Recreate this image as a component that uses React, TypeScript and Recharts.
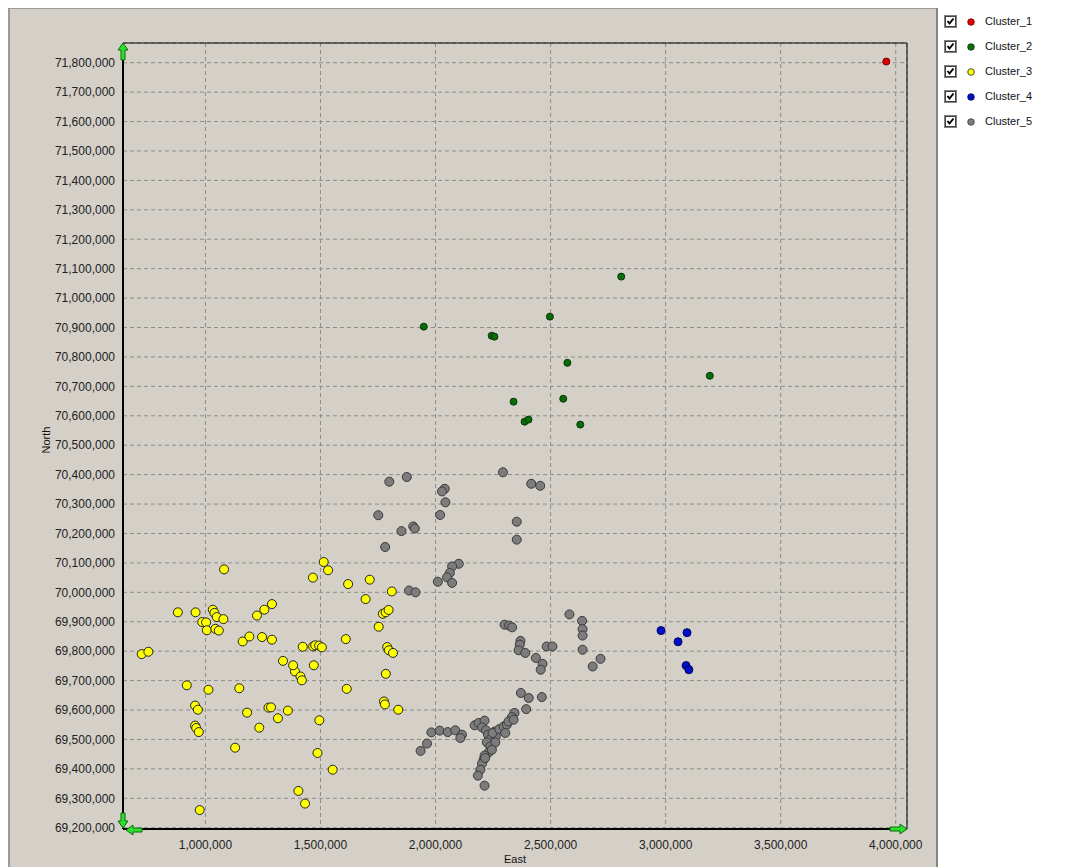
import React from 'react';
import {
  ScatterChart,
  Scatter,
  XAxis,
  YAxis,
  CartesianGrid,
  Legend,
  Label,
  ReferenceLine,
  ReferenceDot,
} from 'recharts';

// axis extents and tick values (East / North, metres)
const X_MIN = 641700;
const X_MAX = 4049000;
const Y_MIN = 69195600;
const Y_MAX = 71867000;
const eastTicks = [1000000, 1500000, 2000000, 2500000, 3000000, 3500000, 4000000];
const northTicks = [
  69200000, 69300000, 69400000, 69500000, 69600000, 69700000, 69800000, 69900000,
  70000000, 70100000, 70200000, 70300000, 70400000, 70500000, 70600000, 70700000,
  70800000, 70900000, 71000000, 71100000, 71200000, 71300000, 71400000, 71500000,
  71600000, 71700000, 71800000,
];

const clusterNames = ['Cluster_1', 'Cluster_2', 'Cluster_3', 'Cluster_4', 'Cluster_5'];

// [east, north]
const cluster1: [number, number][] = [[3959000, 71804000]];

const cluster2: [number, number][] = [
  [1949000, 70903000], [2497000, 70937000], [2244000, 70872000], [2256000, 70869000],
  [2807000, 71073000], [3192000, 70736000], [2573000, 70780000], [2339000, 70648000],
  [2555000, 70658000], [2387000, 70580000], [2404000, 70587000], [2629000, 70570000],
];

const cluster3: [number, number][] = [
  [1081000, 70078000], [880000, 69932000], [957000, 69932000], [1032000, 69941000],
  [1039000, 69930000], [1049000, 69916000], [1078000, 69909000], [986000, 69899000],
  [1003000, 69898000], [1006000, 69871000], [1043000, 69876000], [1058000, 69870000],
  [1224000, 69921000], [1256000, 69941000], [1289000, 69960000], [1162000, 69833000],
  [1191000, 69850000], [1246000, 69848000], [1289000, 69839000], [723000, 69790000],
  [752000, 69798000], [919000, 69684000], [1013000, 69669000], [1147000, 69674000],
  [1389000, 69731000], [1413000, 69714000], [1419000, 69701000], [1614000, 69672000],
  [1784000, 69723000], [955000, 69615000], [967000, 69601000], [955000, 69547000],
  [960000, 69539000], [971000, 69525000], [1181000, 69591000], [1274000, 69608000],
  [1285000, 69609000], [1315000, 69572000], [1358000, 69598000], [1234000, 69540000],
  [1495000, 69565000], [1776000, 69629000], [1780000, 69619000], [1838000, 69601000],
  [1129000, 69472000], [1487000, 69454000], [1553000, 69397000], [1404000, 69325000],
  [1433000, 69282000], [975000, 69260000], [1514000, 70103000], [1533000, 70075000],
  [1467000, 70050000], [1620000, 70028000], [1714000, 70043000], [1810000, 70003000],
  [1696000, 69977000], [1771000, 69927000], [1783000, 69932000], [1796000, 69940000],
  [1753000, 69883000], [1423000, 69815000], [1468000, 69816000], [1477000, 69820000],
  [1494000, 69819000], [1506000, 69813000], [1610000, 69841000], [1790000, 69814000],
  [1797000, 69803000], [1815000, 69794000], [1337000, 69767000], [1381000, 69752000],
  [1471000, 69752000],
];

const cluster4: [number, number][] = [
  [2980000, 69870000], [3054000, 69832000], [3093000, 69863000], [3089000, 69751000],
  [3101000, 69737000],
];

const cluster5: [number, number][] = [
  [1875000, 70392000], [1799000, 70376000], [2040000, 70352000], [2028000, 70343000],
  [2043000, 70306000], [1751000, 70262000], [2020000, 70263000], [1852000, 70208000],
  [1903000, 70224000], [1910000, 70217000], [1781000, 70154000], [2101000, 70097000],
  [2072000, 70088000], [2062000, 70066000], [2050000, 70051000], [2010000, 70036000],
  [2072000, 70032000], [1885000, 70006000], [1913000, 70000000], [2293000, 70408000],
  [2416000, 70369000], [2455000, 70362000], [2353000, 70240000], [2353000, 70179000],
  [2582000, 69925000], [2637000, 69903000], [2639000, 69875000], [2639000, 69853000],
  [2639000, 69805000], [2300000, 69890000], [2320000, 69887000], [2333000, 69881000],
  [2369000, 69835000], [2366000, 69822000], [2361000, 69803000], [2390000, 69794000],
  [2436000, 69777000], [2465000, 69757000], [2457000, 69737000], [2483000, 69816000],
  [2508000, 69816000], [2717000, 69774000], [2683000, 69748000], [2371000, 69658000],
  [2405000, 69641000], [2462000, 69644000], [2394000, 69603000], [2343000, 69590000],
  [2332000, 69576000], [1935000, 69461000], [1963000, 69486000], [1982000, 69524000],
  [2018000, 69530000], [2053000, 69525000], [2086000, 69531000], [2115000, 69516000],
  [2108000, 69505000], [2213000, 69343000], [2170000, 69548000], [2187000, 69556000],
  [2213000, 69564000], [2202000, 69541000], [2219000, 69531000], [2228000, 69516000],
  [2238000, 69501000], [2223000, 69490000], [2238000, 69476000], [2231000, 69456000],
  [2213000, 69445000], [2209000, 69431000], [2202000, 69418000], [2195000, 69397000],
  [2216000, 69437000], [2184000, 69377000], [2257000, 69527000], [2262000, 69510000],
  [2248000, 69522000], [2277000, 69535000], [2296000, 69544000], [2310000, 69550000],
  [2317000, 69561000], [2339000, 69567000], [2303000, 69522000], [2260000, 69490000],
  [2245000, 69465000],
];

const clusterData = [cluster1, cluster2, cluster3, cluster4, cluster5];
const clusterFill = ['#e00000', '#0b6b0b', '#ffff00', '#0010c8', '#7c7c7c'];
const clusterStroke = ['#700000', '#063806', '#222222', '#000060', '#3a3a3a'];
const clusterRadius = [3.5, 3.5, 4.5, 4, 4.5];

const FONT = '"Liberation Sans", Arial, sans-serif';
const ARROW_FILL = '#2ee02e';
const ARROW_STROKE = '#0a6a0a';

const toPoints = (pairs: [number, number][]) => pairs.map(([east, north]) => ({ east, north }));
const fmt = (v: number) => v.toLocaleString('en-US');

const dotShape = (i: number) => (props: any) => (
  <circle
    cx={props.cx}
    cy={props.cy}
    r={clusterRadius[i]}
    fill={clusterFill[i]}
    stroke={clusterStroke[i]}
    strokeWidth={1}
  />
);

const pts = (list: number[][]) => list.map((p) => p.join(',')).join(' ');

const UpArrow = ({ cx, cy }: any) => (
  <polygon
    points={pts([
      [cx, cy], [cx + 5, cy + 7], [cx + 2, cy + 7], [cx + 2, cy + 17],
      [cx - 2, cy + 17], [cx - 2, cy + 7], [cx - 5, cy + 7],
    ])}
    fill={ARROW_FILL}
    stroke={ARROW_STROKE}
  />
);

const CornerArrows = ({ cx, cy }: any) => (
  <g>
    <polygon
      points={pts([
        [cx, cy - 1], [cx - 5, cy - 8], [cx - 2, cy - 8], [cx - 2, cy - 16],
        [cx + 2, cy - 16], [cx + 2, cy - 8], [cx + 5, cy - 8],
      ])}
      fill={ARROW_FILL}
      stroke={ARROW_STROKE}
    />
    <polygon
      points={pts([
        [cx + 3, cy + 1], [cx + 10, cy - 4], [cx + 10, cy - 1], [cx + 19, cy - 1],
        [cx + 19, cy + 3], [cx + 10, cy + 3], [cx + 10, cy + 6],
      ])}
      fill={ARROW_FILL}
      stroke={ARROW_STROKE}
    />
  </g>
);

const RightArrow = ({ cx, cy }: any) => (
  <polygon
    points={pts([
      [cx, cy], [cx - 7, cy - 5], [cx - 7, cy - 2], [cx - 17, cy - 2],
      [cx - 17, cy + 2], [cx - 7, cy + 2], [cx - 7, cy + 5],
    ])}
    fill={ARROW_FILL}
    stroke={ARROW_STROKE}
  />
);

const CheckBox = () => (
  <svg width={13} height={13} style={{ display: 'block' }}>
    <rect x={0.5} y={0.5} width={12} height={12} fill="#fff" stroke="#808080" />
    <rect x={1.5} y={1.5} width={10} height={10} fill="none" stroke="#404040" />
    <polyline points="3.5,6 5.5,8.5 9.5,3.5" fill="none" stroke="#000" strokeWidth={2} />
  </svg>
);

const renderLegend = () => (
  <div
    style={{
      position: 'relative',
      width: 139,
      height: 860,
      background: '#fff',
      borderLeft: '2px solid #858585',
      borderTop: '1px solid #858585',
      boxSizing: 'border-box',
      fontFamily: FONT,
      fontSize: 11,
      color: '#111',
    }}
  >
    {clusterNames.map((name, i) => (
      <div
        key={name}
        style={{ position: 'absolute', left: 6, top: 7 + i * 25, height: 13, display: 'flex', alignItems: 'center' }}
      >
        <CheckBox />
        <svg width={10} height={10} style={{ marginLeft: 9 }}>
          <circle cx={5} cy={5} r={3.3} fill={clusterFill[i]} stroke={clusterStroke[i]} strokeWidth={0.8} />
        </svg>
        <span style={{ marginLeft: 9, lineHeight: '13px' }}>{name}</span>
      </div>
    ))}
  </div>
);

const EastLabel = ({ viewBox }: any) => (
  <text
    x={viewBox.x + viewBox.width / 2}
    y={viewBox.y + 34}
    textAnchor="middle"
    fontFamily={FONT}
    fontSize={11}
    fill="#111"
  >
    East
  </text>
);

const NorthLabel = ({ viewBox }: any) => {
  const x = viewBox.x - 3;
  const y = viewBox.y + viewBox.height / 2 + 4;
  return (
    <text
      x={x}
      y={y}
      transform={`rotate(-90 ${x} ${y})`}
      textAnchor="middle"
      fontFamily={FONT}
      fontSize={11}
      fill="#111"
    >
      North
    </text>
  );
};

const tickStyle = { fontSize: 12, fill: '#222', fontFamily: FONT };

export default function App() {
  return (
    <ScatterChart
      width={1068}
      height={859}
      margin={{ top: 35, right: 169, bottom: 8, left: 45 }}
      style={{ background: '#d4d0c8', boxShadow: 'inset 2px 1px 0 #9a9a9a' }}
    >
      <CartesianGrid stroke="#8c8c8c" strokeDasharray="4 3" />
      <XAxis
        type="number"
        dataKey="east"
        domain={[X_MIN, X_MAX]}
        ticks={eastTicks}
        allowDataOverflow
        tickFormatter={fmt}
        tick={tickStyle}
        tickLine={false}
        tickMargin={5}
        axisLine={{ stroke: '#000', strokeWidth: 2 }}
        height={30}
      >
        <Label content={EastLabel} />
      </XAxis>
      <YAxis
        type="number"
        dataKey="north"
        domain={[Y_MIN, Y_MAX]}
        ticks={northTicks}
        allowDataOverflow
        tickFormatter={fmt}
        tick={tickStyle}
        tickLine={false}
        axisLine={{ stroke: '#000', strokeWidth: 2 }}
        width={70}
      >
        <Label content={NorthLabel} />
      </YAxis>
      <ReferenceLine y={Y_MAX} stroke="#000" strokeWidth={1} />
      <ReferenceLine x={X_MAX} stroke="#000" strokeWidth={1} />
      <Legend
        layout="vertical"
        align="center"
        verticalAlign="middle"
        content={renderLegend}
        wrapperStyle={{ left: 928, top: -1, width: 140, height: 860 }}
      />
      {clusterData.map((pairs, i) => (
        <Scatter
          key={clusterNames[i]}
          name={clusterNames[i]}
          data={toPoints(pairs)}
          shape={dotShape(i)}
          isAnimationActive={false}
        />
      ))}
      <ReferenceDot x={X_MIN} y={Y_MAX} ifOverflow="visible" shape={UpArrow} />
      <ReferenceDot x={X_MIN} y={Y_MIN} ifOverflow="visible" shape={CornerArrows} />
      <ReferenceDot x={X_MAX} y={Y_MIN} ifOverflow="visible" shape={RightArrow} />
    </ScatterChart>
  );
}
